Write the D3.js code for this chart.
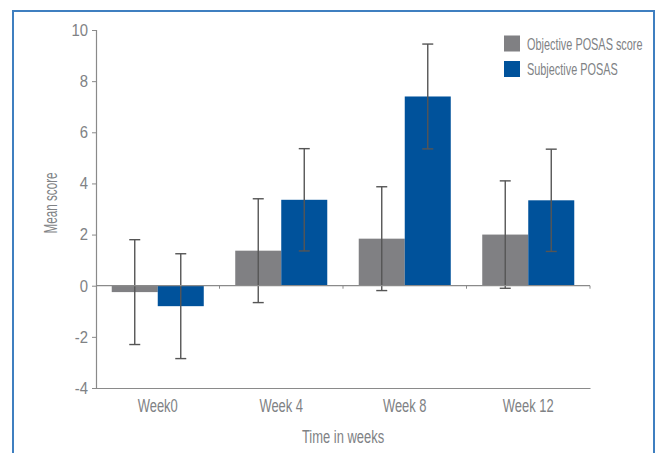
<!DOCTYPE html>
<html><head><meta charset="utf-8">
<script src="https://cdn.jsdelivr.net/npm/d3@7"></script>
<style>
body{margin:0;background:#fff;}
text{font-family:"Liberation Sans",Arial,sans-serif;fill:#808285;}
</style></head><body>
<svg id="chart" width="660" height="453"></svg>
<script>
const categories = ["Week0", "Week 4", "Week 8", "Week 12"];
const seriesNames = ["Objective POSAS score", "Subjective POSAS"];
const objectiveMeans = [-0.25, 1.37, 1.84, 2.0];
const objectiveErr = [2.05, 2.03, 2.03, 2.1];
const subjectiveMeans = [-0.8, 3.36, 7.4, 3.34];
const subjectiveErr = [2.05, 2.0, 2.05, 2.0];
const yTicks = [-4, -2, 0, 2, 4, 6, 8, 10];
const colors = ["#808083", "#00529b"];

const svg = d3.select("#chart");
const mLeft = 96, mRight = 590, mTop = 30, mBottom = 388;

// condensed text: place at (x,y) and squeeze horizontally
function ctext(parent, x, y, str, size, f, anchor, rot) {
  return parent.append("text")
    .attr("transform", `translate(${x},${y})${rot ? " rotate(" + rot + ")" : ""} scale(${f},1)`)
    .attr("text-anchor", anchor || "start")
    .attr("font-size", size).text(str);
}

// frame
svg.append("path").attr("d", "M13,453 V11 H654 V453")
  .attr("fill", "none").attr("stroke", "#3f7fc0").attr("stroke-width", 2);

const x0 = d3.scaleBand().domain(categories).range([mLeft, mRight]).paddingInner(0).paddingOuter(0);
const x1 = d3.scaleBand().domain(seriesNames).range([0, x0.bandwidth()]).paddingInner(0).paddingOuter(0.342);
const y = d3.scaleLinear().domain([-4, 10]).range([mBottom, mTop]);

const data = categories.map((c, i) => ({
  cat: c,
  vals: [
    {s: seriesNames[0], m: objectiveMeans[i], e: objectiveErr[i], c: colors[0]},
    {s: seriesNames[1], m: subjectiveMeans[i], e: subjectiveErr[i], c: colors[1]}
  ]
}));

// bars
const g = svg.selectAll("g.grp").data(data).enter().append("g")
  .attr("transform", d => `translate(${x0(d.cat)},0)`);
g.selectAll("rect").data(d => d.vals).enter().append("rect")
  .attr("x", d => x1(d.s)).attr("width", x1.bandwidth())
  .attr("y", d => y(Math.max(0, d.m))).attr("height", d => Math.abs(y(d.m) - y(0)))
  .attr("fill", d => d.c);

// zero line with ticks
svg.append("line").attr("x1", mLeft).attr("x2", mRight).attr("y1", y(0)).attr("y2", y(0))
  .attr("stroke", "#8a8a8a").attr("stroke-width", 1.2);
categories.forEach((c) => {
  const xx = x0(c) + x0.bandwidth();
  svg.append("line").attr("x1", xx).attr("x2", xx).attr("y1", y(0)).attr("y2", y(0) + 3)
    .attr("stroke", "#8a8a8a").attr("stroke-width", 1);
});

// error bars
const eb = g.selectAll("g.eb").data(d => d.vals).enter().append("g");
eb.append("line")
  .attr("x1", d => x1(d.s) + x1.bandwidth() / 2).attr("x2", d => x1(d.s) + x1.bandwidth() / 2)
  .attr("y1", d => y(d.m + d.e)).attr("y2", d => y(d.m - d.e))
  .attr("stroke", "#555").attr("stroke-width", 1.4);
[1, -1].forEach(sg => {
  eb.append("line")
    .attr("x1", d => x1(d.s) + x1.bandwidth() / 2 - 5.5).attr("x2", d => x1(d.s) + x1.bandwidth() / 2 + 5.5)
    .attr("y1", d => y(d.m + sg * d.e)).attr("y2", d => y(d.m + sg * d.e))
    .attr("stroke", "#555").attr("stroke-width", 1.4);
});

// y axis
const ya = svg.append("g").attr("transform", `translate(${mLeft},0)`)
  .call(d3.axisLeft(y).tickValues(yTicks).tickSize(4).tickPadding(8).tickFormat(d => String(d)));
ya.select(".domain").attr("stroke", "#8a8a8a").attr("stroke-width", 1.2);
ya.selectAll(".tick line").attr("stroke", "#8a8a8a");
ya.selectAll(".tick text").attr("font-family", null).attr("font-size", 16.5)
  .attr("x", -8 / 0.9).attr("transform", "scale(0.9,1)").style("fill", "#808285");

// x axis
const xa = svg.append("g").attr("transform", `translate(0,${mBottom})`)
  .call(d3.axisBottom(x0).tickSize(0).tickPadding(8));
xa.select(".domain").attr("stroke", "#8a8a8a").attr("stroke-width", 1.2);
xa.selectAll(".tick text").attr("font-family", null).attr("font-size", 18.5).attr("dy", "0.85em")
  .attr("transform", "scale(0.7,1)").style("fill", "#808285");

// titles
ctext(svg, (mLeft + mRight) / 2, 443, "Time in weeks", 18.5, 0.7, "middle");
ctext(svg, 57, 203, "Mean score", 17.5, 0.67, "middle", -90);

// legend
const lg = svg.append("g").attr("transform", "translate(504,35.5)");
seriesNames.forEach((s, i) => {
  lg.append("rect").attr("x", 0).attr("y", i * 25.5).attr("width", 16).attr("height", 16).attr("fill", colors[i]);
  ctext(lg, 23, i * 25.5 + 14, s, 17.3, 0.63, "start");
});
</script>
</body></html>
